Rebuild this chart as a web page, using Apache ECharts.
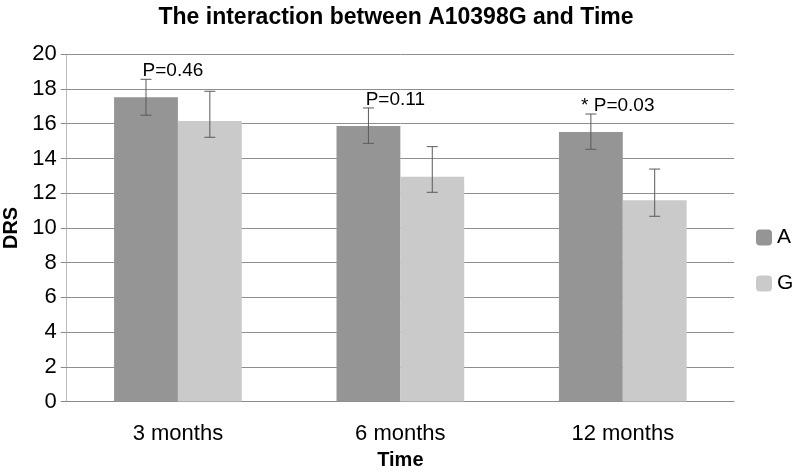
<!DOCTYPE html>
<html>
<head>
<meta charset="utf-8">
<script src="https://cdn.jsdelivr.net/npm/echarts@6/dist/echarts.min.js"></script>
<style>html,body{margin:0;padding:0;background:#fff}#c{width:792px;height:473px}</style>
</head>
<body>
<div id="c"></div>
<script>
var categories = ['3 months', '6 months', '12 months'];
var seriesNames = ['A', 'G'];
var valuesA = [17.52, 15.87, 15.52];
var valuesG = [16.16, 12.95, 11.59];
var errUpperA = [18.56, 16.91, 16.56];
var errLowerA = [16.49, 14.87, 14.53];
var errUpperG = [17.87, 14.68, 13.39];
var errLowerG = [15.22, 12.05, 10.67];
var pLabels = ['P=0.46', 'P=0.11', '* P=0.03'];
var yTicks = [0, 2, 4, 6, 8, 10, 12, 14, 16, 18, 20];

var FONT = 'Liberation Sans';
var BAR_FRAC = 0.287;

function errSeries(name, upper, lower, side) {
  var data = categories.map(function (c, i) { return [i, lower[i], upper[i]]; });
  return {
    type: 'custom', name: name + ' err', silent: true, z: 5,
    data: data,
    encode: { x: 0, y: [1, 2] },
    renderItem: function (params, api) {
      var i = api.value(0);
      var lo = api.coord([i, api.value(1)]);
      var hi = api.coord([i, api.value(2)]);
      var bw = api.size([1, 0])[0] * BAR_FRAC;
      var x = lo[0] + side * bw / 2;
      var cap = 5.5;
      var st = { stroke: '#5a5a5a', lineWidth: 1 };
      return { type: 'group', children: [
        { type: 'line', shape: { x1: x, y1: hi[1], x2: x, y2: lo[1] }, style: st },
        { type: 'line', shape: { x1: x - cap, y1: hi[1], x2: x + cap, y2: hi[1] }, style: st },
        { type: 'line', shape: { x1: x - cap, y1: lo[1], x2: x + cap, y2: lo[1] }, style: st }
      ]};
    }
  };
}

var chart = echarts.init(document.getElementById('c'), null, { renderer: 'canvas' });
chart.setOption({
  animation: false,
  backgroundColor: '#fff',
  textStyle: { fontFamily: FONT },
  title: {
    text: 'The interaction between A10398G and Time',
    left: 'center', top: 1,
    textStyle: { fontFamily: FONT, fontSize: 23, fontWeight: 'bold', color: '#000' }
  },
  legend: {
    orient: 'vertical', left: 751, top: 222,
    itemWidth: 16, itemHeight: 16, itemGap: 25,
    data: seriesNames,
    textStyle: { fontFamily: FONT, fontSize: 21, color: '#000' }
  },
  grid: { left: 66.7, right: 58, top: 54.3, bottom: 71.5, containLabel: false, outerBoundsMode: 'none' },
  xAxis: {
    type: 'category', data: categories,
    name: 'Time', nameLocation: 'middle', nameGap: 49,
    nameTextStyle: { fontFamily: FONT, fontSize: 20, fontWeight: 'bold', color: '#000' },
    axisLine: { lineStyle: { color: '#8a8a8a' } },
    axisTick: { show: false },
    axisLabel: { fontFamily: FONT, fontSize: 22, color: '#000', margin: 21 }
  },
  yAxis: {
    type: 'value', min: 0, max: 20, interval: 2,
    name: 'DRS', nameLocation: 'middle', nameGap: 44, nameRotate: 90,
    nameTextStyle: { fontFamily: FONT, fontSize: 20, fontWeight: 'bold', color: '#000' },
    axisLine: { show: true, lineStyle: { color: '#bdbdbd' } },
    axisTick: { show: true, length: 6, lineStyle: { color: '#8a8a8a' } },
    splitLine: { lineStyle: { color: '#8f8f8f' } },
    axisLabel: {
      fontFamily: FONT, fontSize: 22, color: '#000', margin: 10,
      formatter: function (v) { return yTicks.indexOf(v) >= 0 ? String(v) : ''; }
    }
  },
  series: [
    { type: 'bar', name: 'A', data: valuesA, barWidth: (BAR_FRAC * 100) + '%', barGap: '0%',
      itemStyle: { color: '#959595' } },
    { type: 'bar', name: 'G', data: valuesG, barWidth: (BAR_FRAC * 100) + '%', barGap: '0%',
      itemStyle: { color: '#cacaca' } },
    errSeries('A', errUpperA, errLowerA, -1),
    errSeries('G', errUpperG, errLowerG, 1),
    {
      type: 'custom', name: 'p', silent: true, z: 6,
      data: categories.map(function (c, i) { return [i, errUpperA[i]]; }),
      renderItem: function (params, api) {
        var i = api.value(0);
        var p = api.coord([i, api.value(1)]);
        return { type: 'text', style: {
          text: pLabels[i], x: p[0] - 5, y: p[1] + 1,
          textAlign: 'center', textVerticalAlign: 'bottom',
          font: '19px "' + FONT + '"', fill: '#000'
        }};
      }
    }
  ]
});
</script>
</body>
</html>
